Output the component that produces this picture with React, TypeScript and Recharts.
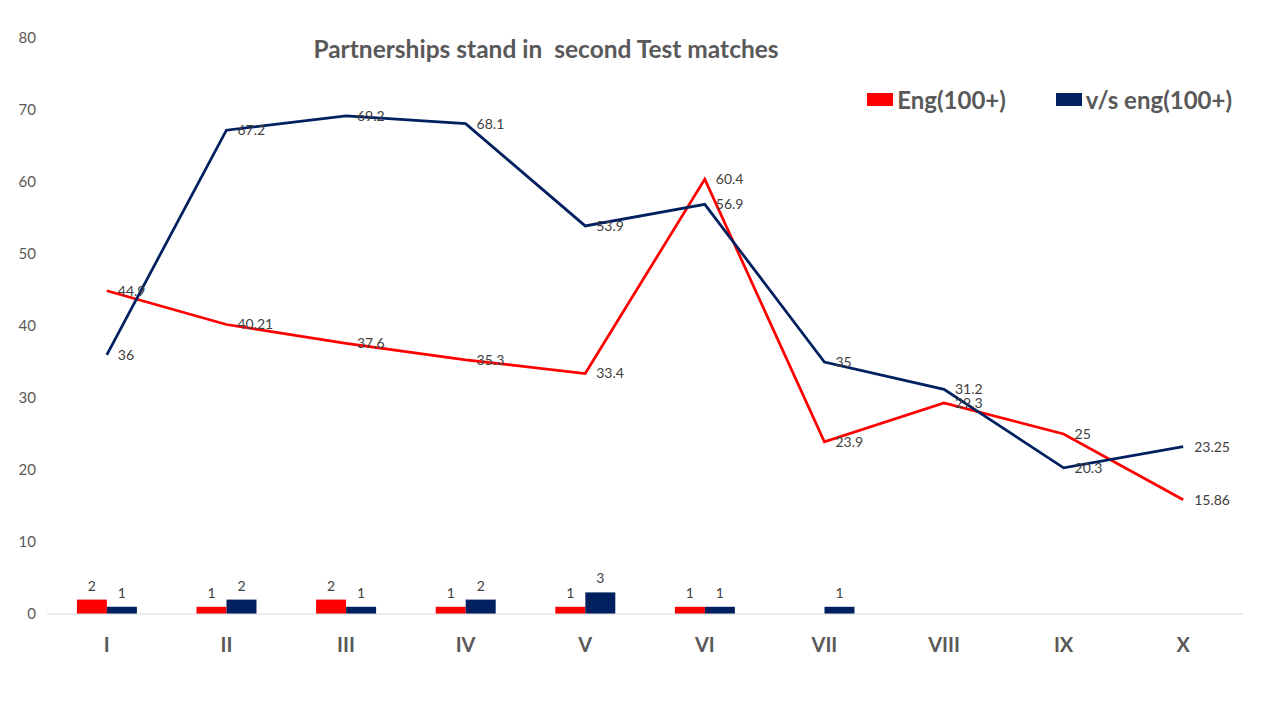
import React from 'react';
import { ComposedChart, Bar, Line, XAxis, YAxis, LabelList } from 'recharts';

const innings = ['I', 'II', 'III', 'IV', 'V', 'VI', 'VII', 'VIII', 'IX', 'X'];
// century stands (bars)
const engCount = [2, 1, 2, 1, 1, 1, null, null, null, null];
const oppCount = [1, 2, 1, 2, 3, 1, 1, null, null, null];
// average stand (lines)
const engAvg = [44.9, 40.21, 37.6, 35.3, 33.4, 60.4, 23.9, 29.3, 25, 15.86];
const oppAvg = [36, 67.2, 69.2, 68.1, 53.9, 56.9, 35, 31.2, 20.3, 23.25];
const yTicks = [0, 10, 20, 30, 40, 50, 60, 70, 80];

const RED = '#FF0000';
const NAVY = '#002060';
const GREY = '#595959';
const FONT = 'Lato, "Open Sans", sans-serif';

const chartData = innings.map((name, i) => ({
    name,
    engCount: engCount[i],
    oppCount: oppCount[i],
    engAvg: engAvg[i],
    oppAvg: oppAvg[i],
}));

const legendItems = [
    { label: 'Eng(100+)', color: RED },
    { label: 'v/s eng(100+)', color: NAVY },
];

export default function App() {
    const labelStyle = { fill: '#404040', fontSize: 14, fontFamily: FONT };
    return (
        <div style={{ position: 'absolute', left: 0, top: 0, width: 1280, height: 720, background: '#fff' }}>
            <div style={{
                position: 'absolute', top: 34, left: 0, width: 1092, textAlign: 'center',
                fontFamily: FONT, fontWeight: 700, fontSize: 24.5, color: GREY, whiteSpace: 'pre'
            }}>
                {'Partnerships stand in  second Test matches'}
            </div>
            <div style={{
                position: 'absolute', top: 85, right: 48, display: 'flex', gap: 50,
                fontFamily: FONT, fontWeight: 700, fontSize: 24, color: GREY
            }}>
                {legendItems.map(item => (
                    <div key={item.label} style={{ display: 'flex', alignItems: 'center' }}>
                        <span style={{ display: 'inline-block', width: 26, height: 13, background: item.color, marginRight: 4 }} />
                        {item.label}
                    </div>
                ))}
            </div>
            <ComposedChart
                width={1280}
                height={720}
                data={chartData}
                margin={{ top: 38, right: 37, bottom: 0, left: 0 }}
                barCategoryGap="25%"
                barGap={0}
            >
                <XAxis
                    dataKey="name"
                    axisLine={{ stroke: '#d9d9d9' }}
                    tickLine={false}
                    tickSize={0}
                    tickMargin={24}
                    tick={{ fill: GREY, fontSize: 20, fontWeight: 700, fontFamily: FONT }}
                    height={106}
                />
                <YAxis
                    domain={[0, 80]}
                    ticks={yTicks}
                    axisLine={false}
                    tickLine={false}
                    tickSize={0}
                    tickMargin={11}
                    width={47}
                    tick={{ fill: GREY, fontSize: 15, fontFamily: FONT }}
                />
                <Bar dataKey="engCount" fill={RED} isAnimationActive={false}>
                    <LabelList dataKey="engCount" position="top" offset={9} style={labelStyle} />
                </Bar>
                <Bar dataKey="oppCount" fill={NAVY} isAnimationActive={false}>
                    <LabelList dataKey="oppCount" position="top" offset={9} style={labelStyle} />
                </Bar>
                <Line dataKey="engAvg" stroke={RED} strokeWidth={2.75} dot={false} isAnimationActive={false}>
                    <LabelList dataKey="engAvg" position="right" offset={11} style={labelStyle} />
                </Line>
                <Line dataKey="oppAvg" stroke={NAVY} strokeWidth={2.75} dot={false} isAnimationActive={false}>
                    <LabelList dataKey="oppAvg" position="right" offset={11} style={labelStyle} />
                </Line>
            </ComposedChart>
        </div>
    );
}
